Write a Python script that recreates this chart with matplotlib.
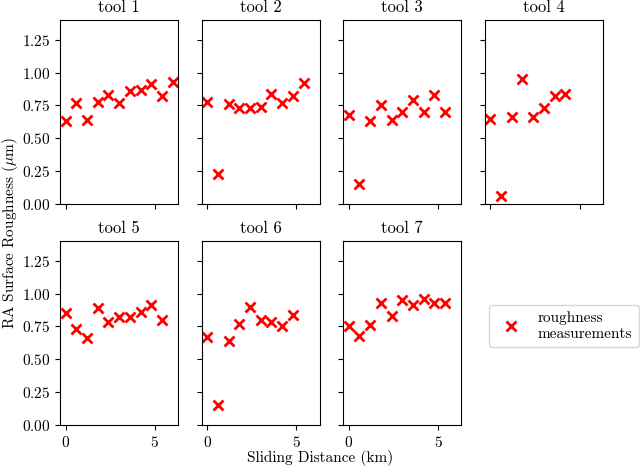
import matplotlib

matplotlib.use("Agg")

from matplotlib import pyplot as plt

plt.rcParams["font.family"] = "serif"
plt.rcParams["font.serif"] = ["cmr10"]
plt.rcParams["mathtext.fontset"] = "cm"
plt.rcParams["axes.formatter.use_mathtext"] = True

tool_names = ["tool 1", "tool 2", "tool 3", "tool 4", "tool 5", "tool 6", "tool 7"]

dist_1 = [0.0, 0.6, 1.2, 1.8, 2.4, 3.0, 3.6, 4.2, 4.8, 5.4, 6.0]
rough_1 = [0.63, 0.77, 0.64, 0.78, 0.83, 0.77, 0.86, 0.87, 0.91, 0.82, 0.93]

dist_2 = [0.0, 0.6, 1.2, 1.8, 2.4, 3.0, 3.6, 4.2, 4.8, 5.4]
rough_2 = [0.78, 0.23, 0.76, 0.73, 0.73, 0.74, 0.84, 0.77, 0.82, 0.92]

dist_3 = [0.0, 0.6, 1.2, 1.8, 2.4, 3.0, 3.6, 4.2, 4.8, 5.4]
rough_3 = [0.68, 0.15, 0.63, 0.75, 0.64, 0.70, 0.79, 0.70, 0.83, 0.70]

dist_4 = [0.0, 0.6, 1.2, 1.8, 2.4, 3.0, 3.6, 4.2]
rough_4 = [0.65, 0.06, 0.66, 0.95, 0.66, 0.73, 0.82, 0.84]

dist_5 = [0.0, 0.6, 1.2, 1.8, 2.4, 3.0, 3.6, 4.2, 4.8, 5.4]
rough_5 = [0.85, 0.73, 0.66, 0.89, 0.78, 0.82, 0.82, 0.86, 0.91, 0.80]

dist_6 = [0.0, 0.6, 1.2, 1.8, 2.4, 3.0, 3.6, 4.2, 4.8]
rough_6 = [0.67, 0.15, 0.64, 0.77, 0.90, 0.80, 0.78, 0.75, 0.84]

dist_7 = [0.0, 0.6, 1.2, 1.8, 2.4, 3.0, 3.6, 4.2, 4.8, 5.4]
rough_7 = [0.75, 0.68, 0.76, 0.93, 0.83, 0.95, 0.91, 0.96, 0.93, 0.93]

distances = [dist_1, dist_2, dist_3, dist_4, dist_5, dist_6, dist_7]
roughness = [rough_1, rough_2, rough_3, rough_4, rough_5, rough_6, rough_7]

fig, axes = plt.subplots(2, 4, figsize=(6.4, 4.66), dpi=100, sharex=True, sharey=True)
fig.subplots_adjust(left=0.094, right=0.942, top=0.957, bottom=0.088, wspace=0.2, hspace=0.2)

for ax, name, xs, ys in zip(axes.flat, tool_names, distances, roughness):
    ax.plot(xs, ys, linestyle="none", marker="x", color="red",
            markersize=7, markeredgewidth=2, label="roughness\nmeasurements")
    ax.set_title(name, fontsize=12)
    ax.tick_params(labelsize=11)

axes[0, 0].set_xlim(-0.3, 6.3)
axes[0, 0].set_ylim(0.0, 1.4)
axes[0, 0].set_yticks([0.0, 0.25, 0.5, 0.75, 1.0, 1.25])
axes[0, 0].set_xticks([0, 5])
axes[1, 3].axis("off")
axes[0, 3].tick_params(labelbottom=False)

handles, labels = axes[0, 0].get_legend_handles_labels()
fig.legend(handles, labels, loc="center", bbox_to_anchor=(0.881, 0.30), fontsize=11)

fig.supxlabel("Sliding Distance (km)", fontsize=11, y=0.0)
fig.supylabel(r"RA Surface Roughness ($\mu$m)", fontsize=11, x=0.0)

fig.savefig("out.png", dpi=100)
